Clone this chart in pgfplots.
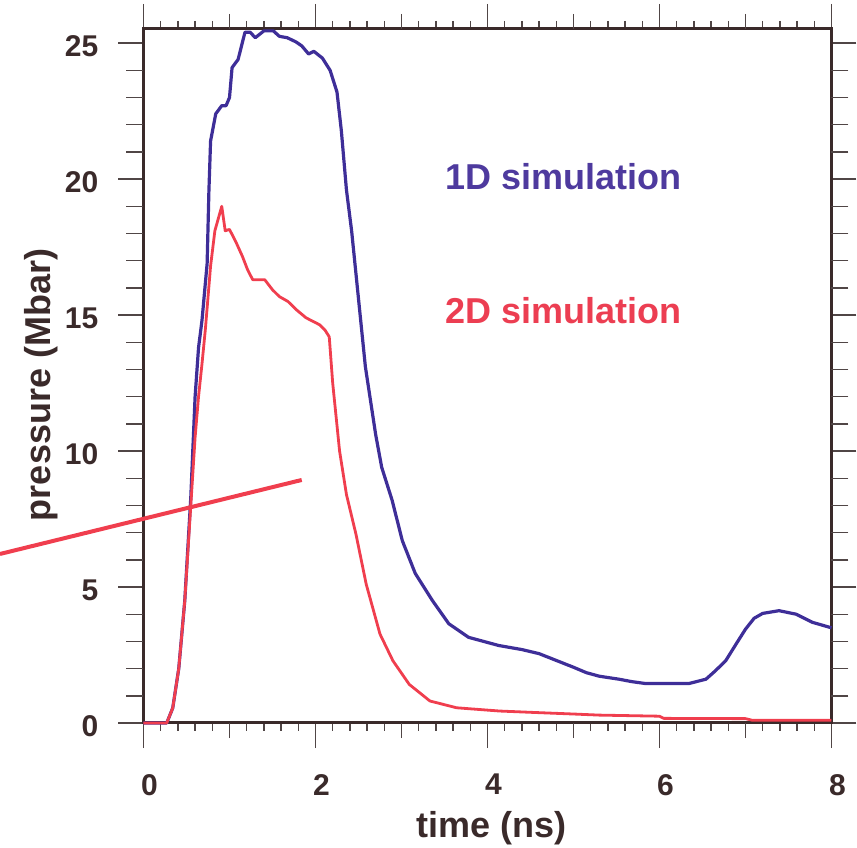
\documentclass[border=0pt]{standalone}
\usepackage{fontspec}
\setmainfont{Liberation Sans}
\usepackage{pgfplots}
\pgfplotsset{compat=1.18}
\definecolor{ink}{RGB}{58,42,42}
\definecolor{tickc}{RGB}{80,70,70}
\definecolor{oneD}{RGB}{62,46,152}
\definecolor{twoD}{RGB}{240,62,78}
\definecolor{oneDtext}{RGB}{78,58,158}
\definecolor{twoDtext}{RGB}{236,62,82}
\begin{document}
\begin{tikzpicture}[x=1pt,y=1pt]
\useasboundingbox (-143.5,-125) rectangle (713.5,723);
\begin{axis}[
 at={(0,0)}, anchor=south west,
 scale only axis, width=688pt, height=694pt,
 xmin=0, xmax=8, ymin=0, ymax=25.52,
 clip=false,
 axis line style={line width=3pt, color=ink},
 tick align=outside,
 tick style={line width=1.4pt, color=tickc},
 major tick length=25pt,
 minor tick length=8pt,
 xtick={0,2,4,6,8},
 minor xtick={0.2,0.4,0.6,0.8,1.2,1.4,1.6,1.8,2.2,2.4,2.6,2.8,3.2,3.4,3.6,3.8,4.2,4.4,4.6,4.8,5.2,5.4,5.6,5.8,6.2,6.4,6.6,6.8,7.2,7.4,7.6,7.8},
 extra x ticks={1,3,5,7},
 extra x tick labels={},
 extra x tick style={major tick length=15pt},
 ytick={0,5,10,15,20,25},
 extra y ticks={1,2,3,4,6,7,8,9,11,12,13,14,16,17,18,19,21,22,23,24},
 extra y tick labels={},
 extra y tick style={major tick length=17pt},
 /pgf/number format/assume math mode=true,
 ticklabel style={font=\fontsize{30}{30}\selectfont\bfseries, color=ink, inner sep=0pt},
 xticklabel style={anchor=north, xshift=6pt, yshift=-26pt},
 yticklabel style={anchor=east, yshift=-3pt, xshift=-20pt},
 xlabel={time (ns)}, ylabel={pressure (Mbar)},
 every axis x label/.style={at={(axis cs:4.05,-4.21)}, anchor=base, font=\fontsize{36}{36}\selectfont\bfseries, text=ink},
 every axis y label/.style={at={(axis cs:-1.087,12.43)}, anchor=base, rotate=90, font=\fontsize{36}{36}\selectfont\bfseries, text=ink},
]
\addplot[color=oneD, line width=3.2pt, line join=round] coordinates {
(0,0) (0.27,0) (0.34,0.55) (0.41,2.0) (0.48,4.5) (0.55,8.3) (0.60,12.0) (0.64,13.8)
(0.68,14.8) (0.74,16.9) (0.76,19.5) (0.78,21.4) (0.84,22.4) (0.91,22.7) (0.96,22.7)
(1.00,23.0) (1.03,24.1) (1.10,24.4) (1.18,25.4) (1.24,25.4) (1.30,25.2) (1.40,25.45)
(1.51,25.45) (1.58,25.25) (1.67,25.2) (1.77,25.05) (1.84,24.9) (1.92,24.6) (1.98,24.7)
(2.08,24.45) (2.17,24.0) (2.25,23.2) (2.30,21.8) (2.36,19.6) (2.42,18.1) (2.50,15.6)
(2.58,13.1) (2.70,10.6) (2.77,9.4) (2.89,8.2) (3.01,6.7) (3.16,5.5) (3.36,4.5)
(3.55,3.65) (3.78,3.15) (4.13,2.85) (4.4,2.7) (4.6,2.55) (4.8,2.3) (5.0,2.05)
(5.15,1.85) (5.30,1.72) (5.53,1.61) (5.68,1.52) (5.84,1.45) (6.34,1.45) (6.54,1.61)
(6.65,1.92) (6.77,2.29) (6.89,2.9) (7.00,3.45) (7.10,3.85) (7.20,4.03) (7.39,4.13)
(7.59,4.0) (7.78,3.7) (8.00,3.5)
};
\addplot[color=twoD, line width=2.8pt, line join=round] coordinates {
(0,0) (0.27,0) (0.34,0.55) (0.41,2.0) (0.48,4.5) (0.55,8.0) (0.60,10.5) (0.64,12.0)
(0.68,13.2) (0.72,14.5) (0.78,16.8) (0.83,18.1) (0.91,19.0) (0.95,18.1) (1.00,18.15)
(1.08,17.65) (1.15,17.16) (1.21,16.67) (1.27,16.3) (1.41,16.3) (1.50,15.93) (1.58,15.68)
(1.68,15.5) (1.78,15.19) (1.89,14.9) (2.05,14.64) (2.11,14.45) (2.16,14.2) (2.20,12.5)
(2.28,10.0) (2.36,8.4) (2.47,6.95) (2.59,5.1) (2.75,3.27) (2.90,2.29) (3.09,1.42)
(3.33,0.81) (3.64,0.56) (4.14,0.44) (4.6,0.38) (5.0,0.33) (5.30,0.29) (6.0,0.25)
(6.05,0.17) (7.0,0.16) (7.08,0.1) (8.0,0.1)
};
\addplot[color=twoD, line width=4pt] coordinates {(-1.669,6.215) (1.840,8.937)};
\node[anchor=base west, text=oneDtext, font=\fontsize{36}{36}\selectfont\bfseries, inner sep=0pt] at (axis cs:3.51,19.6) {1D simulation};
\node[anchor=base west, text=twoDtext, font=\fontsize{36}{36}\selectfont\bfseries, inner sep=0pt] at (axis cs:3.51,14.7) {2D simulation};
\end{axis}
\end{tikzpicture}
\end{document}
